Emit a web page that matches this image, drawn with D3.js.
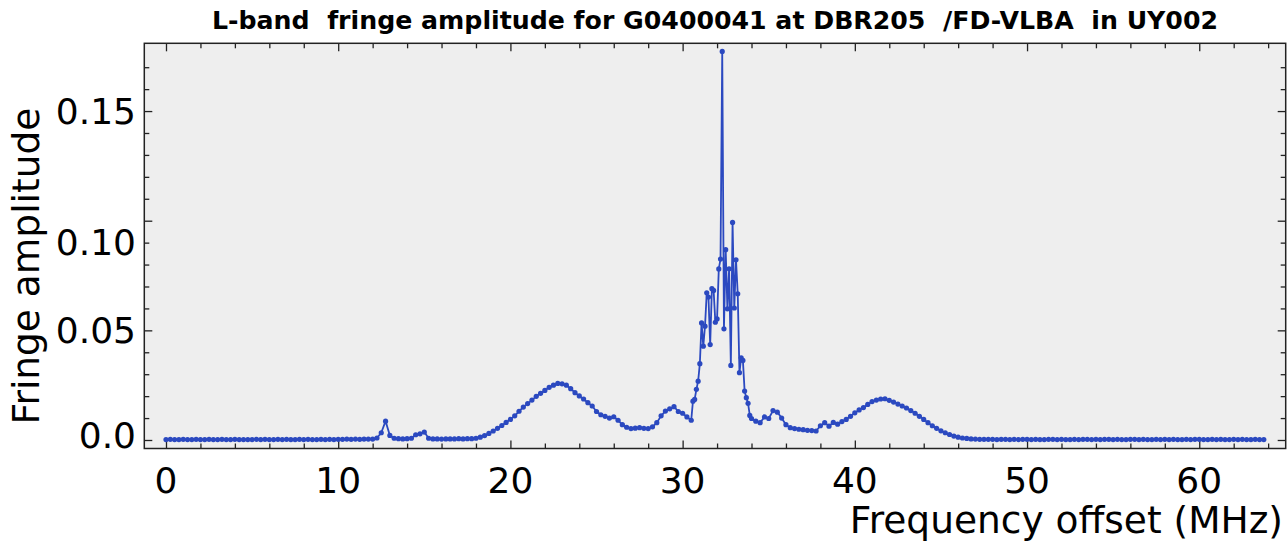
<!DOCTYPE html>
<html>
<head>
<meta charset="utf-8">
<script src="https://cdn.jsdelivr.net/npm/d3@7"></script>
<style>
  body { margin: 0; background: #fff; }
  text { font-family: "DejaVu Sans", sans-serif; }
</style>
</head>
<body>
<svg id="chart" width="1288" height="542"></svg>
<script>
const titleText = "L-band  fringe amplitude for G0400041 at DBR205  /FD-VLBA  in UY002";
const xLabelText = "Frequency offset (MHz)";
const yLabelText = "Fringe amplitude";

const xMajorTicks = [0, 10, 20, 30, 40, 50, 60];
const yMajorTicks = [0, 0.05, 0.10, 0.15];
const yTickLabels = ["0.0", "0.05", "0.10", "0.15"];

// channels 0 .. 30.5 MHz, every 0.25 MHz (one row per MHz)
const lowStart = 0, lowStep = 0.25;
const ampLow = [
  0.0002, 0.0003, 0.0002, 0.0002,
  0.0003, 0.0002, 0.0002, 0.0003,
  0.0002, 0.0002, 0.0003, 0.0002,
  0.0002, 0.0003, 0.0002, 0.0002,
  0.0003, 0.0002, 0.0002, 0.0002,
  0.0002, 0.0003, 0.0002, 0.0003,
  0.0002, 0.0002, 0.0003, 0.0002,
  0.0003, 0.0002, 0.0002, 0.0003,
  0.0002, 0.0003, 0.0002, 0.0002,
  0.0003, 0.0002, 0.0003, 0.0002,
  0.0003, 0.0003, 0.0004, 0.0003,
  0.0004, 0.0003, 0.0004, 0.0004,
  0.0004, 0.0009, 0.0033, 0.0086,
  0.0021, 0.0008, 0.0006, 0.0005,
  0.0006, 0.0008, 0.0024, 0.0028,
  0.0036, 0.0008, 0.0005, 0.0005,
  0.0004, 0.0005, 0.0005, 0.0005,
  0.0006, 0.0005, 0.0006, 0.0006,
  0.0008, 0.0013, 0.0020, 0.0030,
  0.0041, 0.0053, 0.0066, 0.0080,
  0.0094, 0.0110, 0.0131, 0.0150,
  0.0166, 0.0182, 0.0199, 0.0213,
  0.0226, 0.0240, 0.0250, 0.0258,
  0.0256, 0.0250, 0.0234, 0.0216,
  0.0201, 0.0187, 0.0170, 0.0155,
  0.0130, 0.0115, 0.0108, 0.0100,
  0.0106, 0.0090, 0.0070, 0.0058,
  0.0052, 0.0054, 0.0056, 0.0053,
  0.0052, 0.0060, 0.0079, 0.0110,
  0.0132, 0.0142, 0.0152, 0.0130,
  0.0122, 0.0105, 0.0090
];

// channels 30.6 .. 34.0 MHz, every 0.1 MHz (the spiky core)
const coreStart = 30.6, coreStep = 0.1;
const ampCore = [
  0.0177, 0.0185, 0.0231, 0.0268,
  0.0348, 0.0534, 0.0428, 0.0519, 0.0671, 0.0652, 0.0435, 0.0690, 0.0682, 0.0537,
  0.0552, 0.0780, 0.0825, 0.1772, 0.0507, 0.0868, 0.0598, 0.0781, 0.0340, 0.0992,
  0.0602, 0.0822, 0.0667, 0.0307, 0.0375, 0.0363, 0.0223, 0.0193, 0.0167, 0.0112,
  0.0098
];

// channels 34.25 .. 63.75 MHz, every 0.25 MHz
const highStart = 34.25, highStep = 0.25;
const ampHigh = [
          0.0086, 0.0079, 0.0105,
  0.0098, 0.0134, 0.0127, 0.0100,
  0.0070, 0.0056, 0.0052, 0.0049,
  0.0047, 0.0044, 0.0043, 0.0041,
  0.0065, 0.0079, 0.0063, 0.0080,
  0.0072, 0.0084, 0.0094, 0.0108,
  0.0124, 0.0137, 0.0148, 0.0162,
  0.0175, 0.0182, 0.0187, 0.0188,
  0.0181, 0.0173, 0.0164, 0.0155,
  0.0146, 0.0134, 0.0122, 0.0108,
  0.0094, 0.0079, 0.0065, 0.0053,
  0.0042, 0.0033, 0.0025, 0.0018,
  0.0013, 0.0009, 0.0007, 0.0005,
  0.0004, 0.0003, 0.0003, 0.0003,
  0.0003, 0.0002, 0.0003, 0.0003,
  0.0002, 0.0003, 0.0002, 0.0003,
  0.0003, 0.0002, 0.0003, 0.0002,
  0.0002, 0.0003, 0.0003, 0.0002,
  0.0003, 0.0002, 0.0002, 0.0003,
  0.0002, 0.0003, 0.0003, 0.0002,
  0.0003, 0.0002, 0.0003, 0.0003,
  0.0002, 0.0003, 0.0002, 0.0002,
  0.0003, 0.0003, 0.0002, 0.0003,
  0.0002, 0.0002, 0.0003, 0.0002,
  0.0003, 0.0002, 0.0003, 0.0002,
  0.0002, 0.0003, 0.0002, 0.0003,
  0.0003, 0.0002, 0.0002, 0.0003,
  0.0002, 0.0003, 0.0002, 0.0002,
  0.0003, 0.0002, 0.0003, 0.0002,
  0.0002, 0.0003, 0.0002, 0.0002
];

function segment(start, step, values) {
  return values.map((v, i) => ({ f: start + i * step, a: v }));
}

const points = [
  ...segment(lowStart, lowStep, ampLow),
  ...segment(coreStart, coreStep, ampCore),
  ...segment(highStart, highStep, ampHigh),
];

const svg = d3.select("#chart");
const plotLeft = 144.3, plotRight = 1285.7, plotTop = 43.3, plotBottom = 448.5;

const x = d3.scaleLinear().domain([-1.26, 65.02]).range([plotLeft, plotRight]);
const y = d3.scaleLinear().domain([-0.00388, 0.1809]).range([plotBottom, plotTop]);

const lineColor = "#2b49c0";

svg.append("rect")
  .attr("x", plotLeft).attr("y", plotTop)
  .attr("width", plotRight - plotLeft).attr("height", plotBottom - plotTop)
  .attr("fill", "#eeeeee");

const xMinor = d3.range(0, 65, 2).filter((d) => d % 10 !== 0);
const yMinor = d3.range(1, 18).filter((d) => d % 5 !== 0).map((d) => d / 100);

function tickAxis(axisFn, scale, values, size) {
  return axisFn(scale).tickValues(values).tickSize(-size).tickSizeOuter(0).tickFormat("");
}

const axes = [
  [d3.axisBottom, x, `translate(0,${plotBottom})`, xMajorTicks, xMinor],
  [d3.axisTop, x, `translate(0,${plotTop})`, xMajorTicks, xMinor],
  [d3.axisLeft, y, `translate(${plotLeft},0)`, yMajorTicks, yMinor],
  [d3.axisRight, y, `translate(${plotRight},0)`, yMajorTicks, yMinor],
];

axes.forEach(([fn, sc, tr, major, minor]) => {
  [[major, 8], [minor, 5]].forEach(([vals, size]) => {
    const g = svg.append("g").attr("transform", tr).call(tickAxis(fn, sc, vals, size));
    g.select(".domain").remove();
    g.selectAll(".tick line").attr("stroke", "#222").attr("stroke-width", 1.3);
  });
});

// x tick labels
svg.append("g")
  .selectAll("text")
  .data(xMajorTicks)
  .enter()
  .append("text")
  .attr("x", (d) => x(d))
  .attr("y", 493)
  .attr("text-anchor", "middle")
  .style("font-size", "36px")
  .attr("fill", "#000")
  .text((d) => d);

// y tick labels (the original places them slightly off their ticks)
const yLabelShift = [-4.5, 0, 21.5, 0];
svg.append("g")
  .selectAll("text")
  .data(yMajorTicks)
  .enter()
  .append("text")
  .attr("x", 136)
  .attr("y", (d, i) => y(d) + yLabelShift[i] + 12.7)
  .attr("text-anchor", "end")
  .style("font-size", "36px")
  .attr("fill", "#000")
  .text((d, i) => yTickLabels[i]);

// data
const line = d3.line().x((d) => x(d.f)).y((d) => y(d.a));

svg.append("path")
  .datum(points)
  .attr("d", line)
  .attr("fill", "none")
  .attr("stroke", lineColor)
  .attr("stroke-width", 1.8)
  .attr("stroke-linejoin", "round");

svg.append("g")
  .selectAll("circle")
  .data(points)
  .enter()
  .append("circle")
  .attr("cx", (d) => x(d.f))
  .attr("cy", (d) => y(d.a))
  .attr("r", 2.6)
  .attr("fill", lineColor);

// frame
svg.append("rect")
  .attr("x", plotLeft).attr("y", plotTop)
  .attr("width", plotRight - plotLeft).attr("height", plotBottom - plotTop)
  .attr("fill", "none")
  .attr("stroke", "#222")
  .attr("stroke-width", 1.5);

// title
svg.append("text")
  .attr("x", (212 + 1218) / 2)
  .attr("y", 29.3)
  .attr("text-anchor", "middle")
  .attr("textLength", 1006)
  .attr("lengthAdjust", "spacingAndGlyphs")
  .style("font-size", "24px")
  .style("font-weight", "bold")
  .style("white-space", "pre")
  .attr("fill", "#000")
  .text(titleText);

// axis labels
svg.append("text")
  .attr("x", 1283)
  .attr("y", 533)
  .attr("text-anchor", "end")
  .style("font-size", "37.5px")
  .attr("fill", "#000")
  .text(xLabelText);

svg.append("text")
  .attr("transform", "translate(39,266) rotate(-90)")
  .attr("text-anchor", "middle")
  .style("font-size", "37.5px")
  .attr("fill", "#000")
  .text(yLabelText);
</script>
</body>
</html>
